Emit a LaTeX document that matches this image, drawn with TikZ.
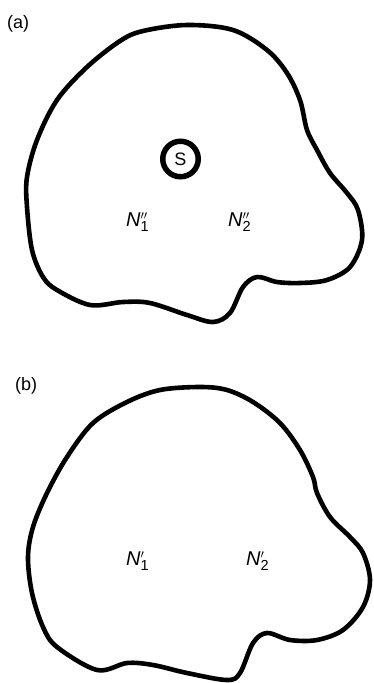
\documentclass[tikz,border=0pt]{standalone}
\usepackage{fontspec}
\setmainfont{Liberation Sans}
\newcommand{\Nlab}[2]{\textit{N}\makebox[0pt][l]{\raisebox{7pt}{\fontsize{13pt}{13pt}\selectfont$#1$}}\raisebox{-5pt}{\fontsize{14.5pt}{14.5pt}\selectfont #2}}
\tikzset{
  blob/.style={line width=4.6pt, line join=round, black},
  lbl/.style={font=\fontsize{20pt}{22pt}\selectfont, inner sep=0pt, anchor=base west},
  tag/.style={font=\fontsize{18pt}{20pt}\selectfont, inner sep=0pt, anchor=base west},
}
\begin{document}
\begin{tikzpicture}[x=1pt,y=-1pt]
\useasboundingbox (0,0) rectangle (373,683);
% (a)
\node[tag] (taga) at (7,28) {(a)};
\draw[blob] plot[smooth cycle, tension=0.55] coordinates {
 (187,25) (143,31) (120,41) (87,67) (57,100) (37,140) (27,177) (27,207)
 (32,250) (43,277) (57,290) (90,305) (123,302) (150,303) (187,315) (213,322)
 (230,313) (243,287) (257,277) (277,282) (300,283) (327,280) (350,267)
 (362,240) (358,210) (347,193) (330,173) (317,150) (307,130) (300,100)
 (287,73) (267,50) (233,30)};
\node[circle, draw, line width=5.5pt, minimum size=35.5pt, inner sep=0pt,
      font=\fontsize{18pt}{20pt}\selectfont] (S) at (180.5,159) {S};
\node[lbl] (n1a) at (126,226) {\Nlab{\prime\prime}{1}};
\node[lbl] (n2a) at (228,226) {\Nlab{\prime\prime}{2}};
% (b)
\node[tag] (tagb) at (15,390) {(b)};
\draw[blob] plot[smooth cycle, tension=0.55] coordinates {
 (200,387) (160,390) (127,402) (93,423) (67,457) (47,493) (33,527) (28,557)
 (32,593) (43,627) (57,647) (97,670) (127,663) (153,665) (187,673) (227,680)
 (240,673) (253,643) (267,633) (290,640) (317,640) (343,630) (363,607)
 (370,580) (363,553) (350,537) (330,517) (317,493) (313,477) (300,450)
 (280,423) (253,402) (227,390)};
\node[lbl] (n1b) at (126,565) {\Nlab{\prime}{1}};
\node[lbl] (n2b) at (246,565) {\Nlab{\prime}{2}};
\end{tikzpicture}
\end{document}
